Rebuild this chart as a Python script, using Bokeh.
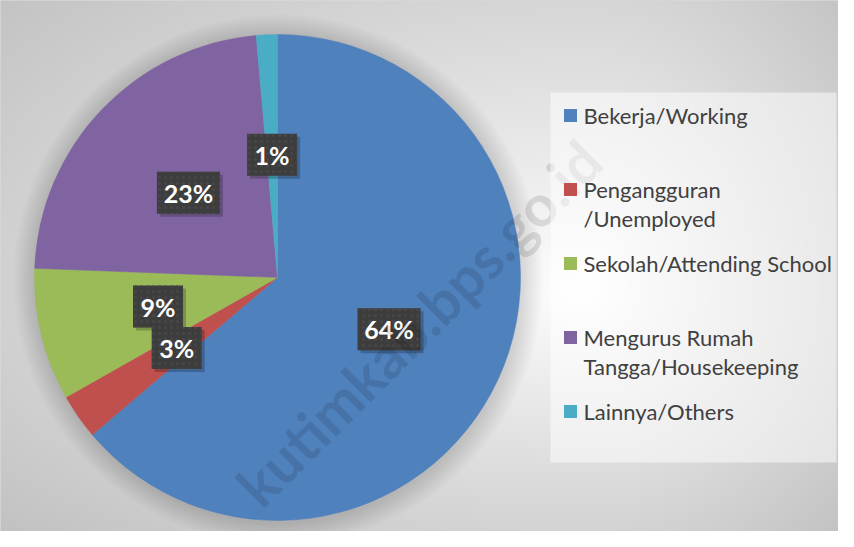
import numpy as np
from bokeh.plotting import figure
from bokeh.models import Range1d, ColumnDataSource
from bokeh.core.properties import value
from bokeh.embed import file_html
from bokeh.resources import INLINE

# ---- data ----
categories = ["Bekerja/Working", "Pengangguran\n/Unemployed", "Sekolah/Attending School",
              "Mengurus Rumah\nTangga/Housekeeping", "Lainnya/Others"]
shares = [63.8, 3.0, 8.8, 23.0, 1.4]
colors = ["#4f81bd", "#c0504d", "#9bbb59", "#8064a2", "#4bacc6"]
watermark = "kutimkab.bps.go.id"

# ---- layout (screen pixel -> data coords) ----
W, H = 838, 531
def dx(px): return px
def dy(py): return H - py

p = figure(width=W, height=H, output_backend="svg", toolbar_location=None,
           x_range=Range1d(0, W), y_range=Range1d(0, H), min_border=0,
           tools="")
p.axis.visible = False
p.grid.visible = False
p.outline_line_color = "#d9d9d9"
p.background_fill_color = "white"
p.border_fill_color = "white"

# background gradient
gcx, gcy = 585.0, 290.0
px = np.arange(W) + 0.5
py = H - (np.arange(H) + 0.5)
PX, PY = np.meshgrid(px, py)
dxn = np.where(PX < gcx, (gcx - PX) / (gcx - 3), (PX - gcx) / (851 - gcx))
dyn = np.where(PY < gcy, (gcy - PY) / (gcy - 4) / 1.15, (PY - gcy) / (543 - gcy))
t = np.sqrt(dxn ** 2 + dyn ** 2)
val = 255 - 62 * np.clip(t / 1.4, 0, 1) ** 0.9
v = val.astype(np.uint32)
img = (255 << 24) | (v << 16) | (v << 8) | v
p.image_rgba(image=[img.view(np.uint32)], x=0, y=0, dw=W, dh=H)

# pie geometry
cx, cy, R = dx(277), dy(277), 243
total = float(sum(shares))
fr = np.array(shares) / total
cum_end = np.cumsum(fr)
cum_start = cum_end - fr
start_ang = np.pi / 2 - 2 * np.pi * cum_end
end_ang = np.pi / 2 - 2 * np.pi * cum_start

# shadow halo
for k in range(11, 0, -1):
    p.circle(x=cx + 1, y=cy - 2, radius=R + 2 * k, fill_color="black", fill_alpha=0.012,
             line_color=None)

src = ColumnDataSource(dict(start=start_ang, end=end_ang, color=colors))
p.wedge(x=cx, y=cy, radius=R, start_angle="start", end_angle="end",
        fill_color="color", line_color="color", line_width=0.5, source=src)

# data labels
mid = 2 * np.pi * (cum_start + cum_end) / 2
lx = cx + 0.506 * R * np.sin(mid)
ly = cy + 0.506 * R * np.cos(mid)
labels = [f"{round(s)}%" for s in shares]
bw = [24 + 13 * len(s) for s in labels]
lsrc = ColumnDataSource(dict(x=lx, y=ly, xs=lx + 3, ys=ly - 3, w=bw, text=labels))
p.rect(x="xs", y="ys", width="w", height=42, fill_color="black", fill_alpha=0.22,
       line_color=None, source=lsrc)
p.rect(x="x", y="y", width="w", height=42, fill_color="#3d3d3d", line_color=None,
       hatch_pattern="dot", hatch_color="#474747", hatch_scale=6, hatch_weight=1.5,
       source=lsrc)
p.text(x="x", y="y", text="text", text_font=value("Lato"), text_font_style="bold",
       text_font_size="25px", text_color="white", text_align="center",
       text_baseline="middle", source=lsrc)

# watermark
p.text(x=[dx(418)], y=[dy(322)], text=[watermark], angle=np.pi / 4,
       text_font=value("Lato"), text_font_style="bold", text_font_size="58px",
       text_color="black", text_alpha=0.11, text_align="center", text_baseline="middle")

# legend
lb_l, lb_r, lb_t, lb_b = 550, 836, 92, 462
p.rect(x=[dx((lb_l + lb_r) / 2)], y=[dy((lb_t + lb_b) / 2)], width=lb_r - lb_l,
       height=lb_b - lb_t, fill_color="white", fill_alpha=0.5, line_color=None)
sq_x, sq_y, tx, ty, tt = [], [], [], [], []
for i, (lab, col) in enumerate(zip(categories, colors)):
    yc = 115 + 74 * i
    sq_x.append(dx(570)); sq_y.append(dy(yc))
    for j, line in enumerate(lab.split("\n")):
        tx.append(dx(583)); ty.append(dy(yc + 29 * j)); tt.append(line)
p.rect(x=sq_x, y=sq_y, width=13, height=13, fill_color=colors, line_color=None)
p.text(x=tx, y=ty, text=tt, text_font=value("Lato"), text_font_size="22px",
       text_color="#404040", text_baseline="middle")

open("out.html", "w").write(file_html(p, INLINE))
